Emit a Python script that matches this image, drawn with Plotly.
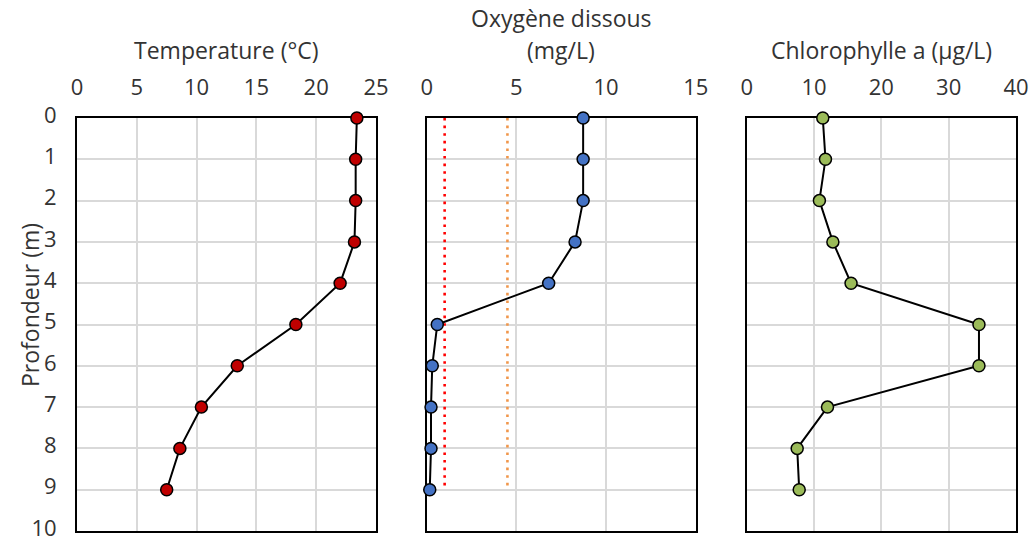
import plotly.graph_objects as go

depth = [0, 1, 2, 3, 4, 5, 6, 7, 8, 9]
temperature = [23.4, 23.3, 23.3, 23.2, 22.0, 18.3, 13.4, 10.4, 8.6, 7.5]
oxygen = [8.72, 8.72, 8.72, 8.27, 6.8, 0.59, 0.31, 0.24, 0.24, 0.17]
chlorophyll = [11.3, 11.7, 10.8, 12.8, 15.5, 34.5, 34.5, 12.0, 7.5, 7.8]
thr_depth = [0, 9]
thr_red = 1.0
thr_orange = 4.5

titles = ["Temperature (°C)", "Oxygène dissous", "(mg/L)", "Chlorophylle a (µg/L)"]
y_title = "Profondeur (m)"

FONT = "Open Sans"
TXT = "#333333"
FS = 22
FT = 23
W, H = 1033, 544
ML, MR, MT, MB = 77, 17, 118, 13
PW = W - ML - MR
PH = H - MT - MB

def px2x(x):
    return (x - ML) / PW

def px2y(y):
    return (H - MB - y) / PH

fig = go.Figure()

def add_series(xvals, color, xa, ya):
    fig.add_trace(go.Scatter(
        x=xvals, y=depth, xaxis=xa, yaxis=ya, mode="lines+markers",
        line=dict(color="black", width=2),
        marker=dict(size=12, color=color, line=dict(color="black", width=1.5)),
        cliponaxis=False, showlegend=False, hoverinfo="skip"))

fig.add_trace(go.Scatter(x=[thr_red, thr_red], y=thr_depth, xaxis="x2", yaxis="y2",
                         mode="lines", line=dict(color="#FF0000", width=2.6, dash="2.6px,5px"),
                         showlegend=False, hoverinfo="skip"))
fig.add_trace(go.Scatter(x=[thr_orange, thr_orange], y=thr_depth, xaxis="x2", yaxis="y2",
                         mode="lines", line=dict(color="#F0964A", width=2.6, dash="2.6px,5px"),
                         showlegend=False, hoverinfo="skip"))

add_series(temperature, "#C00000", "x", "y")
add_series(oxygen, "#4472C4", "x2", "y2")
add_series(chlorophyll, "#9BBB59", "x3", "y3")

domains = [
    [0, px2x(376)],
    [px2x(426.7), px2x(695.8)],
    [px2x(746.7), 1.0],
]
xranges = [[0, 25], [0, 15], [0, 40]]
xdticks = [5, 5, 10]

common_x = dict(side="top", showline=True, linecolor="black", linewidth=2, mirror=True,
                showgrid=True, gridcolor="#D9D9D9", gridwidth=1.5, zeroline=False,
                ticks="", ticklabelstandoff=12, layer="below traces", automargin=False,
                ticklabeloverflow="allow",
                tickfont=dict(family=FONT, size=FS, color=TXT))
common_y = dict(range=[10, 0], dtick=1, showline=True, linecolor="black", linewidth=2,
                mirror=True, showgrid=True, gridcolor="#D9D9D9", gridwidth=1.5,
                zeroline=False, ticks="", layer="below traces", automargin=False,
                ticklabeloverflow="allow",
                tickfont=dict(family=FONT, size=FS, color=TXT))

layout = dict(
    width=W, height=H, autosize=False,
    margin=dict(l=ML, r=MR, t=MT, b=MB, autoexpand=False),
    plot_bgcolor="white", paper_bgcolor="white",
    font=dict(family=FONT, color=TXT),
    showlegend=False,
)
for i in range(3):
    sfx = "" if i == 0 else str(i + 1)
    xa = dict(common_x, domain=domains[i], range=xranges[i], dtick=xdticks[i], tick0=0,
              anchor="y" + sfx)
    ya = dict(common_y, domain=[0, 1], anchor="x" + sfx)
    if i == 0:
        ya["ticklabelstandoff"] = 14
        ya["ticklabelshift"] = 3
    else:
        ya["showticklabels"] = False
    layout["xaxis" + sfx] = xa
    layout["yaxis" + sfx] = ya

fig.update_layout(**layout)

ann = [
    (titles[0], px2x(226.5), px2y(50)),
    (titles[1], px2x(561), px2y(18)),
    (titles[2], px2x(561), px2y(50)),
    (titles[3], px2x(881), px2y(50)),
]
for t, x, y in ann:
    fig.add_annotation(text=t, x=x, y=y, xref="paper", yref="paper", showarrow=False,
                       xanchor="center", yanchor="middle",
                       font=dict(family=FONT, size=FT, color=TXT))
fig.add_annotation(text=y_title, x=px2x(30), y=px2y(305), xref="paper", yref="paper",
                   showarrow=False, textangle=-90, xanchor="center", yanchor="middle",
                   font=dict(family=FONT, size=FT, color=TXT))

fig.write_html("out.html", config={"displayModeBar": False, "responsive": False},
               post_script="document.body.style.margin='0';document.body.style.overflow='hidden';")
